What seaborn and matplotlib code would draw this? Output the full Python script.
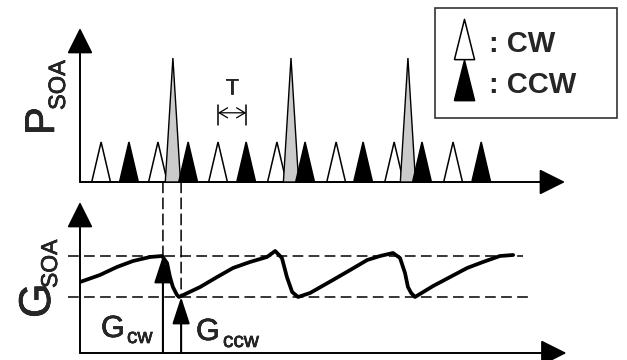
import matplotlib
matplotlib.use("Agg")
import matplotlib.pyplot as plt
import matplotlib.patheffects as pe
import seaborn as sns
import pandas as pd
from matplotlib.patches import ConnectionPatch
from matplotlib.lines import Line2D

# ---------------- data (time axis in units of the cw/ccw spacing) ----------------
cw_times = [0.72, 2.66, 4.71, 6.72, 8.74, 10.72, 12.73]
ccw_times = [1.67, 3.69, 5.67, 7.68, 9.66, 11.67, 13.69]
ctrl_times = [3.17, 7.20, 11.19]
probe_amp = 1.0
ctrl_amp = 3.1

gain_t = [0.00, 0.68, 1.26, 1.81, 2.39, 2.80, 2.97, 3.07, 3.17, 3.31, 3.38,
          4.10, 4.68, 5.22, 5.80, 6.38, 6.66, 6.89, 7.06, 7.24, 7.44,
          7.85, 8.63, 9.22, 9.80, 10.24, 10.68, 10.92, 11.09, 11.19, 11.30, 11.43,
          12.05, 12.63, 13.21, 13.75, 14.33, 14.78]
gain_g = [7.1, 7.8, 8.6, 9.2, 9.6, 9.7, 9.0, 7.6, 6.6, 5.8, 5.6,
          6.6, 7.6, 8.5, 9.1, 9.6, 10.2, 9.5, 7.6, 6.1, 5.6,
          6.0, 7.3, 8.3, 9.3, 9.7, 10.0, 9.5, 8.0, 6.6, 6.0, 5.6,
          6.7, 7.6, 8.5, 9.1, 9.7, 9.8]
gain_high = 9.7
gain_low = 5.6
t_sample_cw = 2.83
t_sample_ccw = 3.45
legend_labels = [": CW", ": CCW"]

# ---------------- styling ----------------
sns.set_theme(style="white")
plt.rcParams["font.family"] = ["Liberation Sans", "DejaVu Sans"]

W, H = 627, 360
fig = plt.figure(figsize=(W / 100, H / 100), dpi=100)
fig.patch.set_facecolor("white")


def fx(x):
    return x / W


def fy(y):
    return 1 - y / H


ax_top = fig.add_axes([fx(80), fy(182), 490 / W, 154 / H])
ax_bot = fig.add_axes([fx(80), fy(353), 490 / W, 151 / H])
ax_top.set_xlim(0, 16.72)
ax_top.set_ylim(0, 3.85)
ax_bot.set_xlim(0, 16.72)
ax_bot.set_ylim(0, 15.1)
for ax in (ax_top, ax_bot):
    ax.set_axis_off()
    ax.patch.set_alpha(0)

axis_arrow = dict(arrowstyle="-|>,head_length=0.8,head_width=0.4", mutation_scale=20,
                  color="black", lw=1.4, shrinkA=0, shrinkB=0)
ax_top.annotate("", xy=(0, 3.85), xytext=(0, 0), arrowprops=axis_arrow, annotation_clip=False)
ax_top.annotate("", xy=(16.55, 0), xytext=(0, 0), arrowprops=axis_arrow, annotation_clip=False)
ax_bot.annotate("", xy=(0, 15.1), xytext=(0, 0), arrowprops=axis_arrow, annotation_clip=False)
ax_bot.annotate("", xy=(16.6, 0), xytext=(0, 0), arrowprops=axis_arrow, annotation_clip=False)

# ---------------- pulses ----------------
hw_probe, hw_ctrl = 0.32, 0.26
for t in cw_times:
    ax_top.fill([t - hw_probe, t, t + hw_probe], [0, probe_amp, 0], facecolor="white",
                edgecolor="black", lw=1.1, zorder=2, clip_on=False)
for t in ctrl_times:
    ax_top.fill([t - hw_ctrl, t, t + hw_ctrl], [0, ctrl_amp, 0], facecolor="#cbcbcb",
                edgecolor="black", lw=1.0, zorder=3, clip_on=False)
for t in ccw_times:
    ax_top.fill([t - hw_probe, t, t + hw_probe], [0, probe_amp, 0], facecolor="black",
                edgecolor="black", lw=1.1, zorder=4, clip_on=False)

# pulse spacing marker T
ax_top.annotate("", xy=(ccw_times[2], 1.73), xytext=(cw_times[2], 1.73),
                arrowprops=dict(arrowstyle="<->,head_length=0.5,head_width=0.3",
                                mutation_scale=12, lw=0.9, color="black", shrinkA=0, shrinkB=0))
for t in (cw_times[2], ccw_times[2]):
    ax_top.plot([t, t], [1.43, 1.93], color="black", lw=1.1)
thick = [pe.withStroke(linewidth=0.45, foreground="black")]
ax_top.text((cw_times[2] + ccw_times[2]) / 2, 2.2, "T", ha="center", va="baseline",
            fontsize=16, path_effects=thick)

# ---------------- gain ----------------
dash = (0, (7, 3.5))
df = pd.DataFrame({"t": gain_t, "g": gain_g})
sns.lineplot(data=df, x="t", y="g", ax=ax_bot, sort=False, color="black", lw=2.7,
             estimator=None, zorder=5)
ax_bot.set_axis_off()
ax_bot.plot([-0.41, 15.12], [gain_high, gain_high], color="black", lw=1.1, ls=dash, clip_on=False)
ax_bot.plot([-0.41, 15.36], [gain_low, gain_low], color="black", lw=1.1, ls=dash, clip_on=False)

for t, g in ((t_sample_cw, gain_high), (t_sample_ccw, gain_low)):
    cp = ConnectionPatch(xyA=(t, 0), coordsA=ax_top.transData, xyB=(t, g), coordsB=ax_bot.transData,
                         color="black", lw=1.1, linestyle=dash)
    fig.add_artist(cp)
    ax_bot.annotate("", xy=(t, g), xytext=(t, 0),
                    arrowprops=dict(arrowstyle="-|>,head_length=1.15,head_width=0.375",
                                    mutation_scale=14.4, color="black", lw=1.5, shrinkA=0, shrinkB=0),
                    annotation_clip=False)

# ---------------- labels ----------------
rot = dict(rotation=90, rotation_mode="anchor", ha="left", va="baseline", path_effects=thick)
fig.text(fx(54), fy(135), "P", fontsize=30, **rot)
fig.text(fx(65), fy(110), "SOA", fontsize=17, **rot)
fig.text(fx(50), fy(318), "G", fontsize=32, **rot)
fig.text(fx(57), fy(288), "SOA", fontsize=16.5, **rot)

hor = dict(ha="left", va="baseline", path_effects=thick)
fig.text(fx(101), fy(337), "G", fontsize=22, **hor)
fig.text(fx(127), fy(343), "cw", fontsize=15, **hor)
fig.text(fx(196), fy(340), "G", fontsize=22, **hor)
fig.text(fx(223), fy(347), "ccw", fontsize=15, **hor)

# ---------------- legend ----------------
tri = [(-0.5, -1), (0.5, -1), (0, 1), (-0.5, -1)]
handles = [Line2D([], [], ls="none", marker=tri, markersize=29, markerfacecolor="white",
                  markeredgecolor="black", markeredgewidth=1.1),
           Line2D([], [], ls="none", marker=tri, markersize=29, markerfacecolor="black",
                  markeredgecolor="black", markeredgewidth=1.1)]
leg = fig.legend(handles, legend_labels, loc="upper left", mode="expand",
                 bbox_to_anchor=(fx(435), fy(118), (617 - 435) / W, 110 / H),
                 bbox_transform=fig.transFigure, borderaxespad=0,
                 prop=dict(size=21, weight="bold"),
                 frameon=True, fancybox=False, handlelength=0.8, handleheight=1.4,
                 handletextpad=0.45, labelspacing=0.25, borderpad=0.6)
leg.get_frame().set_edgecolor("black")
leg.get_frame().set_linewidth(1.2)

fig.savefig("out.png", dpi=100, facecolor="white")
